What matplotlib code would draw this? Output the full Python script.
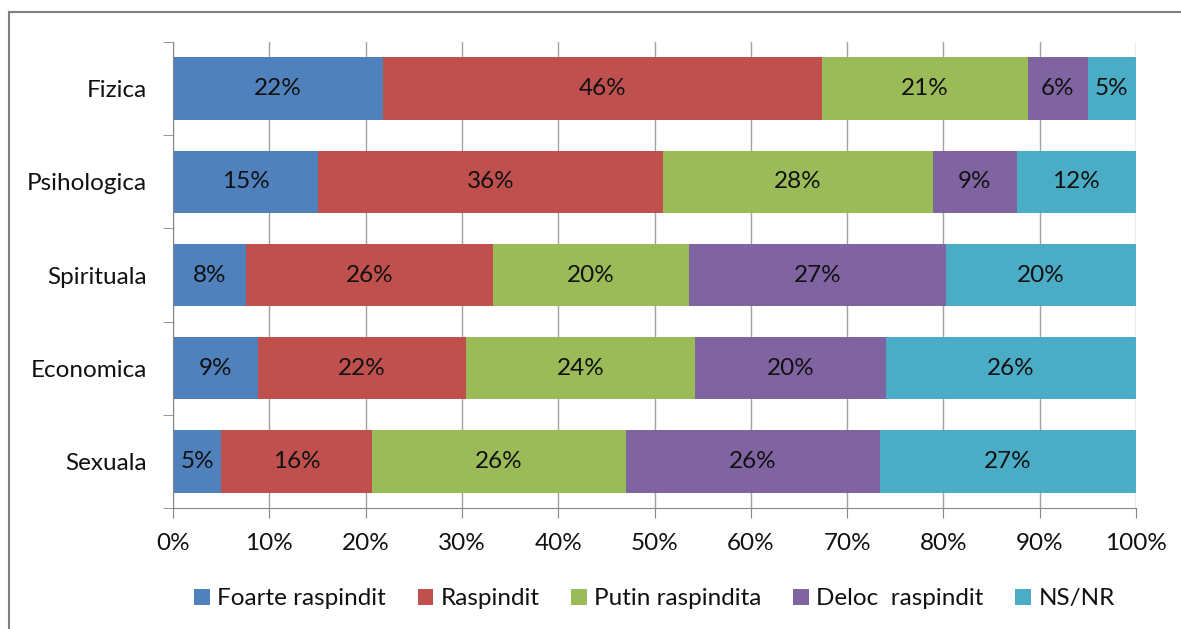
import matplotlib
matplotlib.use("Agg")
import matplotlib.pyplot as plt
from matplotlib.lines import Line2D
import numpy as np

categories = ["Fizica", "Psihologica", "Spirituala", "Economica", "Sexuala"]
series_names = ["Foarte raspindit", "Raspindit", "Putin raspindita", "Deloc  raspindit", "NS/NR"]

# percent shares per category
foarte = [21.8, 15.1, 7.6, 8.8, 5.0]
raspindit = [45.6, 35.8, 25.6, 21.6, 15.7]
putin = [21.4, 28.0, 20.4, 23.8, 26.3]
deloc = [6.2, 8.7, 26.7, 19.8, 26.4]
nsnr = [5.0, 12.4, 19.7, 26.0, 26.6]

colors = ["#4F81BD", "#C0504D", "#9BBB59", "#8064A2", "#4BACC6"]
x_ticks = [0, 10, 20, 30, 40, 50, 60, 70, 80, 90, 100]

plt.rcParams["font.family"] = ["Lato", "DejaVu Sans"]
FS = 17.5
TXT = "#111111"

fig = plt.figure(figsize=(11.81, 6.29), dpi=100)
ax = fig.add_axes([173 / 1181, 1 - 508 / 629, (1136 - 173) / 1181, (508 - 42) / 629])

y = np.arange(len(categories))
left = np.zeros(len(categories))
for name, vals, col in zip(series_names, [foarte, raspindit, putin, deloc, nsnr], colors):
    vals = np.array(vals)
    ax.barh(y, vals, left=left, height=0.67, color=col, label=name, zorder=2)
    for yi, l, v in zip(y, left, vals):
        ax.text(l + v / 2, yi, f"{v:.0f}%", ha="center", va="center",
                fontsize=FS, color=TXT, zorder=3)
    left += vals

ax.set_xlim(0, 100)
ax.set_ylim(len(categories) - 0.5, -0.5)
ax.set_xticks(x_ticks)
ax.set_xticklabels([f"{t}%" for t in x_ticks], fontsize=FS, color=TXT)
ax.set_yticks(y)
ax.set_yticklabels(categories, fontsize=FS, color=TXT)
ax.set_yticks(np.arange(-0.5, len(categories)), minor=True)
ax.tick_params(axis="y", which="major", length=0, pad=18.5)
ax.tick_params(axis="y", which="minor", length=7, color="#868686", direction="out")
ax.tick_params(axis="x", length=7, color="#868686", direction="out", pad=11)

ax.grid(axis="x", color="#a0a0a0", linewidth=1.0, zorder=0)
for s in ["top", "right"]:
    ax.spines[s].set_visible(False)
for s in ["left", "bottom"]:
    ax.spines[s].set_color("#868686")

ax.legend(loc="center", bbox_to_anchor=(0.5, -0.195), ncol=5, frameon=False,
          fontsize=FS, handlelength=0.65, handleheight=0.65, handletextpad=0.3,
          columnspacing=1.3, labelcolor=TXT)

# outer chart frame
fig.add_artist(Line2D([9 / 1181, 1], [1 - 12 / 629, 1 - 12 / 629], color="#808080", lw=1.5))
fig.add_artist(Line2D([9 / 1181, 9 / 1181], [0, 1 - 12 / 629], color="#808080", lw=1.5))

fig.savefig("out.png", dpi=100)
